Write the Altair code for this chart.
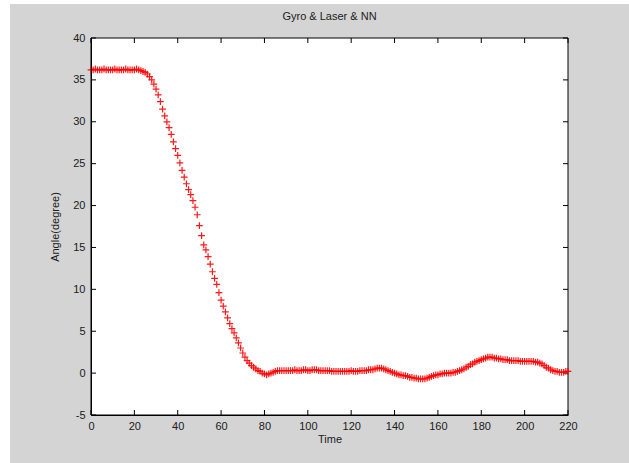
import altair as alt
import pandas as pd

# Angle samples, one per time step (t = 0 .. 220)
angle_plateau = [36.2, 36.2, 36.3, 36.2, 36.2, 36.2, 36.3, 36.2, 36.2, 36.2, 36.2, 36.3,
                 36.2, 36.2, 36.2, 36.2, 36.3, 36.2, 36.2, 36.2, 36.2, 36.3, 36.2]  # t 0..22
angle_descent = [36.1, 36.0, 35.9, 35.7, 35.4, 35.0, 34.5, 33.9, 33.2, 32.4, 31.5, 30.7,
                 30.0, 29.3, 28.5, 27.6, 26.8, 26.0, 25.1, 24.2, 23.4, 22.6, 21.9, 21.3,
                 20.6, 19.8, 18.9, 17.6, 16.4, 15.3, 14.7, 13.9, 13.0, 12.1, 11.3, 10.6,
                 9.6]  # t 23..59
angle_knee = [8.7, 8.0, 7.3, 6.6, 5.9, 5.3, 4.8, 4.2, 3.6, 3.0, 2.4, 1.9, 1.5, 1.2, 0.9,
              0.7, 0.5, 0.3, 0.2, 0.0, -0.1, -0.2, -0.1, 0.0, 0.1]  # t 60..84
angle_flat = [0.2, 0.3, 0.3, 0.3, 0.3, 0.3, 0.3, 0.3, 0.3, 0.4, 0.3, 0.3, 0.3, 0.4, 0.4,
              0.3, 0.3, 0.4, 0.4, 0.4, 0.3, 0.3, 0.3, 0.3, 0.3, 0.3, 0.2, 0.2, 0.2, 0.2,
              0.2, 0.2, 0.2, 0.2, 0.2, 0.3, 0.2, 0.2, 0.2, 0.3, 0.3, 0.3, 0.3, 0.4, 0.4,
              0.4]  # t 85..130
angle_tail = [0.5, 0.6, 0.6, 0.6, 0.5, 0.4, 0.3, 0.2, 0.1, 0.0, -0.1, -0.2, -0.2, -0.3,
              -0.3, -0.4, -0.5, -0.5, -0.6, -0.6, -0.7, -0.7, -0.7, -0.7, -0.6, -0.5,
              -0.4, -0.3, -0.2, -0.2, -0.1, -0.1, 0.0, 0.0, 0.0, 0.0, 0.1, 0.1, 0.2, 0.3,
              0.4, 0.5, 0.7, 0.8, 1.0, 1.1, 1.3, 1.4, 1.5, 1.6, 1.7, 1.8, 1.9, 1.9, 1.9,
              1.8, 1.8, 1.7, 1.7, 1.6, 1.6, 1.6, 1.5, 1.5, 1.5, 1.5, 1.5, 1.4, 1.4, 1.4,
              1.4, 1.4, 1.4, 1.4, 1.3, 1.3, 1.2, 1.1, 0.9, 0.7, 0.6, 0.4, 0.3, 0.2, 0.2,
              0.1, 0.1, 0.1, 0.2, 0.2]  # t 131..220

angles = angle_plateau + angle_descent + angle_knee + angle_flat + angle_tail
times = list(range(len(angles)))

x_ticks = [0, 20, 40, 60, 80, 100, 120, 140, 160, 180, 200, 220]
y_ticks = [-5, 0, 5, 10, 15, 20, 25, 30, 35, 40]
title_text = "Gyro & Laser & NN"

W, H = 477, 377
PAD_L, PAD_T, PAD_R, PAD_B = 91, 38, 61, 48
FONT = "Liberation Sans"
GRAY = "#d4d4d4"

df = pd.DataFrame({"t": times, "angle": angles})
xt = pd.DataFrame({"t": x_ticks})
yt = pd.DataFrame({"angle": y_ticks})
one = pd.DataFrame({"label": [title_text]})

xscale = alt.Scale(domain=[0, 220], nice=False, zero=False)
yscale = alt.Scale(domain=[-5, 40], nice=False, zero=False)
xaxis = alt.Axis(values=x_ticks, title="Time", tickSize=0, labelPadding=5,
                 titlePadding=2, grid=False, labelFlush=False, zindex=2,
                 labelExpr="'' + datum.value")
yaxis = alt.Axis(values=y_ticks, title="Angle(degree)", tickSize=0,
                 labelPadding=6, titlePadding=12, grid=False, labelFlush=False, zindex=2,
                 labelExpr="'' + datum.value")

# figure background (gray panel, slightly inset from the top-left like the scan)
bg = alt.Chart(one).mark_rect(color=GRAY).encode(
    x=alt.value(10 - PAD_L), x2=alt.value(W + PAD_R),
    y=alt.value(4 - PAD_T), y2=alt.value(H + PAD_B))
plot_bg = alt.Chart(one).mark_rect(fill="white", stroke="black", strokeWidth=1).encode(
    x=alt.value(0), x2=alt.value(W), y=alt.value(0), y2=alt.value(H))
title = alt.Chart(one).mark_text(
    font=FONT, fontSize=11, color="#202020", baseline="middle", align="center"
).encode(text="label:N", x=alt.value(W / 2), y=alt.value(-21))

points = alt.Chart(df).mark_point(
    shape="M-1,0L1,0M0,-1L0,1", filled=False, stroke="#ff0000",
    strokeWidth=1.2, size=46, opacity=0.9
).encode(
    x=alt.X("t:Q", scale=xscale, axis=xaxis),
    y=alt.Y("angle:Q", scale=yscale, axis=yaxis),
)

xb = alt.Chart(xt).mark_rule(color="black", strokeWidth=1).encode(
    x=alt.X("t:Q", scale=xscale, axis=xaxis), y=alt.value(H), y2=alt.value(H - 5))
xtop = alt.Chart(xt).mark_rule(color="black", strokeWidth=1).encode(
    x=alt.X("t:Q", scale=xscale, axis=xaxis), y=alt.value(0), y2=alt.value(5))
yl = alt.Chart(yt).mark_rule(color="black", strokeWidth=1).encode(
    y=alt.Y("angle:Q", scale=yscale, axis=yaxis), x=alt.value(0), x2=alt.value(5))
yr = alt.Chart(yt).mark_rule(color="black", strokeWidth=1).encode(
    y=alt.Y("angle:Q", scale=yscale, axis=yaxis), x=alt.value(W), x2=alt.value(W - 5))

chart = alt.layer(bg, plot_bg, title, xb, xtop, yl, yr, points).properties(
    width=W, height=H,
    padding={"left": PAD_L, "top": PAD_T, "right": PAD_R, "bottom": PAD_B},
    autosize=alt.AutoSizeParams(type="none"),
    background="white",
).configure_view(
    fill="white", stroke=None
).configure_axis(
    labelFont=FONT, titleFont=FONT, labelFontSize=11, titleFontSize=11,
    labelColor="#202020", titleColor="#202020", titleFontWeight="normal",
    domainColor="black", domainWidth=1
)

chart.save("out.html", embed_options={"renderer": "svg", "actions": False})
